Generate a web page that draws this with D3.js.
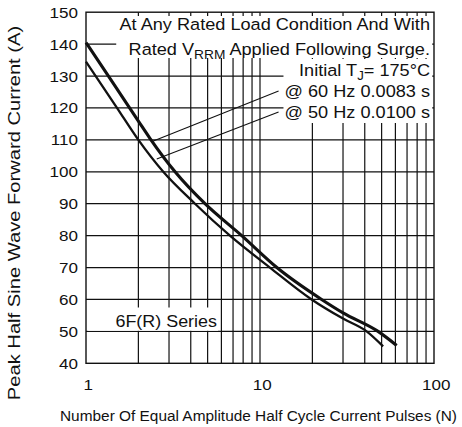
<!DOCTYPE html>
<html>
<head>
<meta charset="utf-8">
<script src="https://cdn.jsdelivr.net/npm/d3@7"></script>
<style>
  html, body { margin: 0; padding: 0; background: #fff; }
  svg { display: block; font-family: "Liberation Sans", Arial, Helvetica, sans-serif; }
</style>
</head>
<body>
<svg id="chart" width="462" height="427"></svg>
<script>
// surge curves: pulses N vs peak current (A)
const pulses60 = [1, 1.5, 2.0, 2.33, 3.25, 4.83, 7.85, 12.5, 22.6, 30, 47.7, 61];
const amps60   = [140.5, 126.1, 115.9, 110.5, 100, 90, 80, 70, 60, 55.8, 50, 45.6];
const pulses50 = [1, 1.5, 2.0, 2.78, 4.23, 6.72, 11.4, 19.8, 30, 41, 51];
const amps50   = [134.5, 120.2, 110, 100, 90, 80, 70, 60, 54.0, 50, 45.3];

const xTicks = [1, 10, 100];
const yTicks = [40, 50, 60, 70, 80, 90, 100, 110, 120, 130, 140, 150];

// where the two leader lines touch the curves
const leaderN = [2.4, 2.55];
const leaderA = [109.5, 104];

const svg = d3.select("#chart");
const x = d3.scaleLog().domain([1, 100]).range([86, 434]);
const y = d3.scaleLinear().domain([40, 150]).range([363.3, 12.2]);
const ink = "#111";

// grid
const grid = svg.append("g").attr("stroke", ink).attr("stroke-width", 1.2);
grid.selectAll("line.v")
    .data(x.ticks().filter(d => d > 1 && d < 100))
    .enter().append("line")
    .attr("x1", d => x(d)).attr("x2", d => x(d))
    .attr("y1", y(150)).attr("y2", y(40));
grid.selectAll("line.h")
    .data(yTicks.filter(d => d > 40 && d < 150))
    .enter().append("line")
    .attr("x1", x(1)).attr("x2", x(100))
    .attr("y1", d => y(d)).attr("y2", d => y(d));

// annotation text, stretched a little wider like the original
const note = svg.append("g")
    .attr("transform", "translate(430,0) scale(1.1,1)")
    .attr("font-size", 16.5).attr("fill", ink).attr("text-anchor", "end");
const boxA = note.append("rect").attr("fill", "#fff");
const boxB = note.append("rect").attr("fill", "#fff");

const t1 = note.append("text").attr("y", 30).text("At Any Rated Load Condition And With");
const t2 = note.append("text").attr("y", 55);
t2.append("tspan").text("Rated V");
t2.append("tspan").attr("font-size", 12.5).attr("dy", 4).text("RRM");
t2.append("tspan").attr("dy", -4).text(" Applied Following Surge.");
const t3 = note.append("text").attr("y", 76);
t3.append("tspan").text("Initial T");
t3.append("tspan").attr("font-size", 12).attr("dy", 4).text("J");
t3.append("tspan").attr("dy", -4).text("= 175°C");
const t4 = note.append("text").attr("y", 97).text("@ 60 Hz 0.0083 s");
const t5 = note.append("text").attr("y", 118).text("@ 50 Hz 0.0100 s");

const bA = [t1.node().getBBox(), t2.node().getBBox()];
const leftA = d3.min(bA, b => b.x) - 3;
boxA.attr("x", leftA).attr("y", 16).attr("width", 2 - leftA).attr("height", 42);
const bB = [t3.node().getBBox(), t4.node().getBBox(), t5.node().getBBox()];
const leftB = d3.min(bB, b => b.x) - 1;
boxB.attr("x", leftB).attr("y", 59).attr("width", 2 - leftB).attr("height", 64);

// leader lines from the frequency notes to the curves
[t4, t5].forEach((t, i) => {
    const b = t.node().getBBox();
    svg.append("line")
        .attr("x1", 430 + b.x * 1.1 - 6).attr("y1", +t.attr("y") - 6)
        .attr("x2", x(leaderN[i])).attr("y2", y(leaderA[i]))
        .attr("stroke", ink).attr("stroke-width", 1.1);
});

// series label
const tag = svg.append("g")
    .attr("transform", "translate(217,327) scale(1.1,1)")
    .attr("font-size", 16.3).attr("fill", ink).attr("text-anchor", "end");
const tagBox = tag.append("rect").attr("fill", "#fff");
tag.append("text").text("6F(R) Series");
tagBox.attr("x", (x(1) + 1.5 - 217) / 1.1).attr("y", -19.5)
    .attr("width", (217 + 1 - x(1) - 1.5) / 1.1).attr("height", y(50) - 327 + 19.5 - 0.6);

// curves
const line = d3.line()
    .x(d => x(d[0])).y(d => y(d[1]))
    .curve(d3.curveMonotoneX);
svg.append("path")
    .datum(pulses50.map((n, i) => [n, amps50[i]]))
    .attr("d", line).attr("fill", "none")
    .attr("stroke", ink).attr("stroke-width", 2.3);
svg.append("path")
    .datum(pulses60.map((n, i) => [n, amps60[i]]))
    .attr("d", line).attr("fill", "none")
    .attr("stroke", ink).attr("stroke-width", 3.1);

// frame
svg.append("rect")
    .attr("x", x(1)).attr("y", y(150))
    .attr("width", x(100) - x(1)).attr("height", y(40) - y(150))
    .attr("fill", "none").attr("stroke", ink).attr("stroke-width", 1.4);

// axes
const yAxis = svg.append("g")
    .attr("transform", `translate(${x(1)},0)`)
    .call(d3.axisLeft(y).tickValues(yTicks).tickSize(0).tickPadding(7.3));
const xAxis = svg.append("g")
    .attr("transform", `translate(0,${y(40)})`)
    .call(d3.axisBottom(x).tickValues(xTicks).tickFormat(d3.format("d")).tickSize(0).tickPadding(15.5));
[yAxis, xAxis].forEach(a => {
    a.select(".domain").remove();
    a.selectAll("text")
        .attr("font-family", null).attr("font-size", 15.5).attr("fill", ink)
        .attr("transform", "scale(1.1,1)");
});
xAxis.selectAll("text").attr("dx", 1.5);

// axis titles
svg.append("text")
    .attr("transform", "translate(20,213) rotate(-90) scale(1.26,1)")
    .attr("text-anchor", "middle").attr("font-size", 16).attr("fill", ink)
    .text("Peak Half Sine Wave Forward Current (A)");
svg.append("text")
    .attr("x", 258.5).attr("y", 421)
    .attr("text-anchor", "middle").attr("font-size", 15.4).attr("fill", ink)
    .attr("textLength", 397).attr("lengthAdjust", "spacingAndGlyphs")
    .text("Number Of Equal Amplitude Half Cycle Current Pulses (N)");
</script>
</body>
</html>
